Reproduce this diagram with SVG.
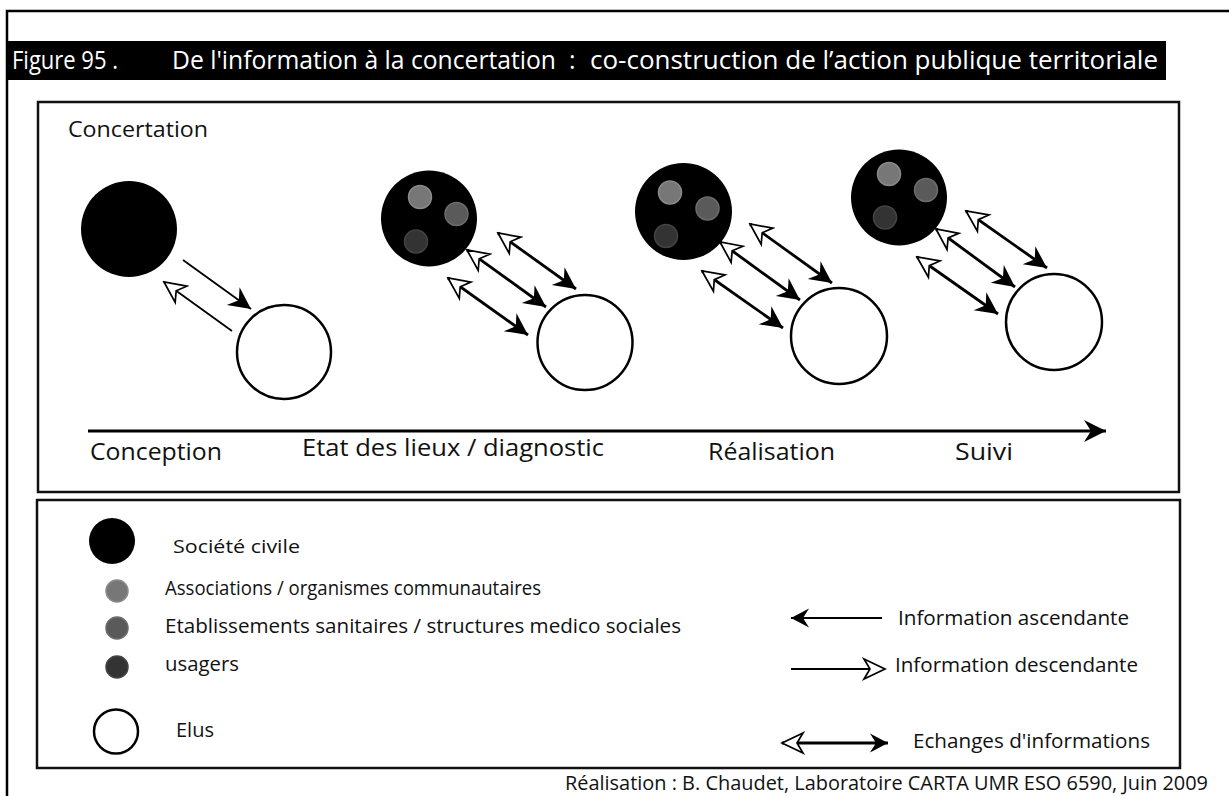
<svg xmlns="http://www.w3.org/2000/svg" width="1229" height="796" viewBox="0 0 1229 796">
<style>
.t{font-family:"Open Sans","Noto Sans","Liberation Sans",sans-serif;fill:#111}
.w{font-family:"Open Sans","Noto Sans","Liberation Sans",sans-serif;fill:#fff}
.soc{fill:#000}
.elu{fill:#fff;stroke:#000;stroke-width:2.5}
.d1{fill:#777;stroke:#8a8a8a;stroke-width:1.5}
.d2{fill:#5a5a5a;stroke:#6c6c6c;stroke-width:1.5}
.d3{fill:#333;stroke:#444;stroke-width:1.5}
.thin{stroke:#000;stroke-width:1.8;fill:none}
.thick{stroke:#000;stroke-width:2.8;fill:none}
.box{fill:none;stroke:#111;stroke-width:2.5}
</style>
<defs>
<marker id="hf" viewBox="-24 -12 26 24" refX="0" refY="0" markerWidth="26" markerHeight="24" markerUnits="userSpaceOnUse" orient="auto">
<path d="M0,0 L-22,-11 L-15,0 L-22,11 Z" fill="#000"/>
</marker>
<marker id="ho" viewBox="-24 -12 26 24" refX="0" refY="0" markerWidth="26" markerHeight="24" markerUnits="userSpaceOnUse" orient="auto-start-reverse">
<path d="M0,0 L-21,-10 L-15,0 L-21,10 Z" fill="#fff" stroke="#000" stroke-width="1.7" stroke-linejoin="miter"/>
</marker>
<marker id="hfs" viewBox="-22 -11 24 22" refX="0" refY="0" markerWidth="24" markerHeight="22" markerUnits="userSpaceOnUse" orient="auto-start-reverse">
<path d="M0,0 L-18,-9.5 L-12,0 L-18,9.5 Z" fill="#000"/>
</marker>
</defs>
<rect width="1229" height="796" fill="#fff"/>
<g id="frame">
<path d="M7,796 L7,11 L1229,11" fill="none" stroke="#000" stroke-width="2.5"/>
<rect x="7" y="41" width="1159" height="39" fill="#000"/>
<text class="w" x="12" y="69" font-size="25" textLength="106" lengthAdjust="spacingAndGlyphs">Figure 95 .</text>
<text class="w" x="172" y="69" font-size="25" textLength="384" lengthAdjust="spacingAndGlyphs">De l'information à la concertation</text>
<text class="w" x="569" y="69" font-size="25">:</text>
<text class="w" x="590" y="69" font-size="25" textLength="568" lengthAdjust="spacingAndGlyphs">co-construction de l’action publique territoriale</text>
<rect class="box" x="38" y="102" width="1141" height="390"/>
<rect class="box" x="37" y="500" width="1143" height="268"/>
<text class="t" x="565" y="790" font-size="20" textLength="643" lengthAdjust="spacingAndGlyphs">Réalisation : B. Chaudet, Laboratoire CARTA UMR ESO 6590,  Juin 2009</text>
</g>
<g id="title-concertation"><text class="t" x="68" y="137" font-size="22" textLength="140" lengthAdjust="spacingAndGlyphs">Concertation</text></g>
<g id="stage1">
<circle class="soc" cx="129" cy="229" r="48"/>
<circle class="elu" cx="284" cy="352" r="47"/>
<text class="t" x="90" y="460" font-size="23" textLength="132" lengthAdjust="spacingAndGlyphs">Conception</text>
</g>
<g id="stage2">
<circle class="soc" cx="429" cy="218.5" r="48"/>
<circle class="d1" cx="420" cy="197" r="11.5"/>
<circle class="d2" cx="456.5" cy="214" r="11.5"/>
<circle class="d3" cx="416" cy="241.5" r="11.5"/>
<circle class="elu" cx="585" cy="342.5" r="47.5"/>
<text class="t" x="302" y="456" font-size="23" textLength="302" lengthAdjust="spacingAndGlyphs">Etat des lieux / diagnostic</text>
</g>
<g id="stage3">
<circle class="soc" cx="683.5" cy="211.5" r="48.5"/>
<circle class="d1" cx="670" cy="192.5" r="11.5"/>
<circle class="d2" cx="707.5" cy="208.5" r="11.5"/>
<circle class="d3" cx="666" cy="236" r="11.5"/>
<circle class="elu" cx="839" cy="336" r="48"/>
<text class="t" x="708" y="460" font-size="23" textLength="127" lengthAdjust="spacingAndGlyphs">Réalisation</text>
</g>
<g id="stage4">
<circle class="soc" cx="899" cy="197.5" r="48"/>
<circle class="d1" cx="889" cy="174" r="11.5"/>
<circle class="d2" cx="926" cy="190" r="11.5"/>
<circle class="d3" cx="885" cy="217.5" r="11.5"/>
<circle class="elu" cx="1054" cy="322" r="48"/>
<text class="t" x="955" y="460" font-size="23" textLength="58" lengthAdjust="spacingAndGlyphs">Suivi</text>
</g>
<g id="connectors">
<line class="thin" x1="183" y1="260" x2="251" y2="309" marker-end="url(#hf)"/>
<line class="thin" x1="232" y1="331" x2="164" y2="282" marker-end="url(#ho)"/>
<line class="thick" x1="498" y1="233" x2="576" y2="289" marker-start="url(#ho)" marker-end="url(#hf)"/>
<line class="thick" x1="467" y1="250" x2="546" y2="307" marker-start="url(#ho)" marker-end="url(#hf)"/>
<line class="thick" x1="448" y1="278" x2="528" y2="335" marker-start="url(#ho)" marker-end="url(#hf)"/>
<line class="thick" x1="750" y1="224" x2="832" y2="283" marker-start="url(#ho)" marker-end="url(#hf)"/>
<line class="thick" x1="720" y1="242" x2="800" y2="300" marker-start="url(#ho)" marker-end="url(#hf)"/>
<line class="thick" x1="702" y1="271" x2="783" y2="328" marker-start="url(#ho)" marker-end="url(#hf)"/>
<line class="thick" x1="966" y1="211" x2="1047" y2="268" marker-start="url(#ho)" marker-end="url(#hf)"/>
<line class="thick" x1="936" y1="229" x2="1015" y2="287" marker-start="url(#ho)" marker-end="url(#hf)"/>
<line class="thick" x1="917" y1="257" x2="998" y2="314" marker-start="url(#ho)" marker-end="url(#hf)"/>
<line class="thick" x1="88" y1="431" x2="1106" y2="431" marker-end="url(#hf)"/>
</g>
<g id="legend">
<circle class="soc" cx="112" cy="541" r="23"/>
<text class="t" x="173" y="553" font-size="19" textLength="127" lengthAdjust="spacingAndGlyphs">Société civile</text>
<circle class="d1" cx="117" cy="591" r="11"/>
<text class="t" x="165" y="595" font-size="20" textLength="376" lengthAdjust="spacingAndGlyphs">Associations / organismes communautaires</text>
<circle class="d2" cx="117" cy="628" r="11"/>
<text class="t" x="165" y="633" font-size="20" textLength="516" lengthAdjust="spacingAndGlyphs">Etablissements sanitaires / structures medico sociales</text>
<circle class="d3" cx="117" cy="667" r="11"/>
<text class="t" x="165" y="671" font-size="20" textLength="74" lengthAdjust="spacingAndGlyphs">usagers</text>
<circle class="elu" cx="116" cy="731.5" r="22" stroke-width="2"/>
<text class="t" x="176" y="737" font-size="20" textLength="38" lengthAdjust="spacingAndGlyphs">Elus</text>
<line class="thin" x1="882" y1="618" x2="791" y2="618" marker-end="url(#hfs)"/>
<text class="t" x="898" y="625" font-size="20" textLength="231" lengthAdjust="spacingAndGlyphs">Information ascendante</text>
<line class="thin" x1="791" y1="669" x2="885" y2="669" marker-end="url(#ho)"/>
<text class="t" x="895" y="672" font-size="20" textLength="243" lengthAdjust="spacingAndGlyphs">Information descendante</text>
<line class="thick" x1="782" y1="743" x2="888" y2="743" marker-start="url(#ho)" marker-end="url(#hfs)"/>
<text class="t" x="913" y="748" font-size="20" textLength="237" lengthAdjust="spacingAndGlyphs">Echanges d'informations</text>
</g>
</svg>
